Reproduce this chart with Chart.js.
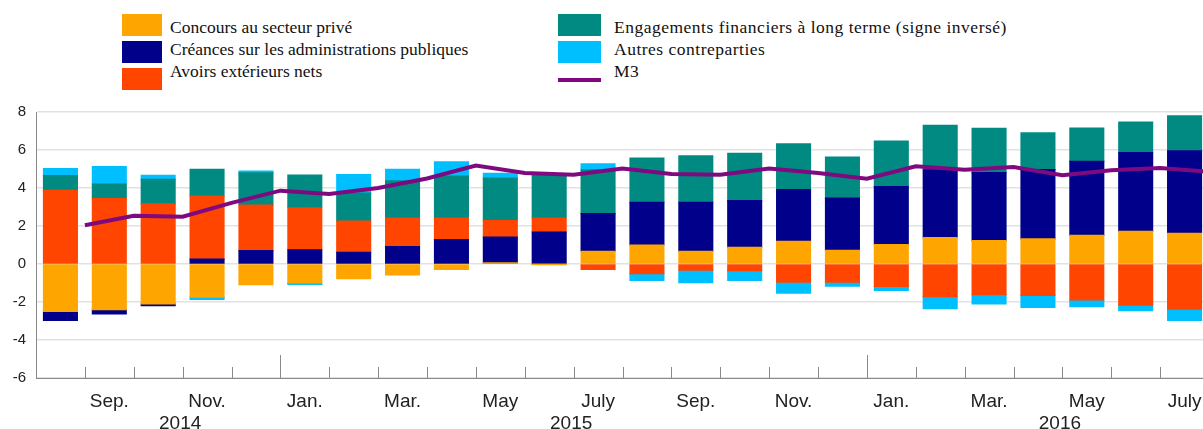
<!DOCTYPE html>
<html>
<head>
<meta charset="utf-8">
<script src="https://cdn.jsdelivr.net/npm/chart.js@4"></script>
<style>
html,body{margin:0;padding:0;background:#fff;overflow:hidden;width:1203px;height:429px;}
#legend{position:absolute;left:0;top:0;width:1203px;height:100px;font-family:"Liberation Serif","Times New Roman",serif;font-size:17.5px;color:#111;}
.sw{position:absolute;}
.lb{position:absolute;white-space:nowrap;line-height:20px;}
.lb.c2{letter-spacing:0.5px;}
#wrap{position:absolute;left:0;top:100px;}
</style>
</head>
<body>
<div id="legend"></div>
<div id="wrap"><canvas id="c" width="1209" height="329"></canvas></div>
<script>
const categories=["2014-08","2014-09","2014-10","2014-11","2014-12","2015-01","2015-02","2015-03","2015-04","2015-05","2015-06","2015-07","2015-08","2015-09","2015-10","2015-11","2015-12","2016-01","2016-02","2016-03","2016-04","2016-05","2016-06","2016-07"];
const tickLabels=["","Sep.","","Nov.","","Jan.","","Mar.","","May","","July","","Sep.","","Nov.","","Jan.","","Mar.","","May","","July"];
const years=["2014","2015","2016"];

const prive=[-2.50,-2.40,-2.10,-1.74,-1.09,-1.00,-0.77,-0.58,-0.28,0.06,-0.02,0.67,1.00,0.67,0.88,1.19,0.72,1.02,1.39,1.23,1.32,1.51,1.72,1.61];
const administrations=[-0.47,-0.23,-0.09,0.26,0.70,0.75,0.61,0.91,1.28,1.35,1.68,1.98,2.25,2.58,2.46,2.72,2.75,3.05,3.56,3.58,3.65,3.89,4.14,4.35];
const exterieurs=[3.88,3.44,3.16,3.32,2.40,2.21,1.65,1.51,1.14,0.88,0.74,-0.28,-0.51,-0.33,-0.35,-0.95,-0.95,-1.18,-1.72,-1.61,-1.65,-1.89,-2.16,-2.37];
const engagements=[0.77,0.77,1.30,1.40,1.70,1.72,1.47,1.96,2.21,2.23,2.23,2.30,2.33,2.44,2.49,2.42,2.16,2.40,2.35,2.33,1.93,1.75,1.61,1.84];
const autres=[0.37,0.91,0.21,-0.12,0.09,-0.07,0.98,0.60,0.74,0.25,0.00,0.32,-0.35,-0.65,-0.51,-0.58,-0.21,-0.21,-0.63,-0.49,-0.63,-0.35,-0.30,-0.60];
const m3=[2.04,2.54,2.49,3.22,3.86,3.68,4.00,4.50,5.18,4.79,4.70,5.03,4.74,4.70,5.02,4.79,4.49,5.14,4.96,5.10,4.67,4.93,5.05,4.85];

const barSeries=[
  {label:"Concours au secteur privé",data:prive,color:"#FFA500"},
  {label:"Créances sur les administrations publiques",data:administrations,color:"#00008B"},
  {label:"Avoirs extérieurs nets",data:exterieurs,color:"#FF4500"},
  {label:"Engagements financiers à long terme (signe inversé)",data:engagements,color:"#008A82"},
  {label:"Autres contreparties",data:autres,color:"#00BFFF"}
];
const m3Label="M3", m3Color="#7F0A80";

// legend (two columns of three rows)
const leg=document.getElementById("legend");
const legItems=barSeries.map(s=>({label:s.label,color:s.color,line:false})).concat([{label:m3Label,color:m3Color,line:true}]);
legItems.forEach((it,i)=>{
  const col=i<3?0:1,row=i%3;
  const sx=col?558:122, tx=col?614:170, top=14+row*27;
  const sw=document.createElement("div");
  sw.className="sw";
  if(it.line){sw.style.cssText=`left:${sx}px;top:78px;width:43px;height:4px;background:${it.color}`;}
  else{sw.style.cssText=`left:${sx}px;top:${top}px;width:${col?43:40}px;height:22px;background:${it.color}`;}
  leg.appendChild(sw);
  const t=document.createElement("div");
  t.className="lb"+(col?" c2":"");
  t.style.left=tx+"px";
  t.style.top=(17+row*22)+"px";
  t.textContent=it.label;
  leg.appendChild(t);
});

const axisExtras={
  id:"axisExtras",
  afterDraw(chart){
    const {ctx,chartArea}=chart;
    const xl=chart.scales.xl;
    ctx.save();
    ctx.strokeStyle="#8a8a8a";ctx.lineWidth=1;
    for(let i=1;i<categories.length;i++){
      const x=Math.round(xl.getPixelForValue(i))+0.5;
      const newYear=categories[i].slice(0,4)!==categories[i-1].slice(0,4);
      ctx.beginPath();
      ctx.moveTo(x,chartArea.bottom);
      ctx.lineTo(x,chartArea.bottom-(newYear?23:11));
      ctx.stroke();
    }
    ctx.fillStyle="#222";
    ctx.font='19px "Liberation Sans", Arial, sans-serif';
    ctx.textAlign="center";ctx.textBaseline="middle";
    years.forEach(y=>{
      const idx=categories.map((c,i)=>c.startsWith(y)?i:-1).filter(i=>i>=0);
      const mid=Math.ceil((idx[0]+idx[idx.length-1]+1)/2)-0.05;
      ctx.fillText(y,xl.getPixelForValue(mid),chartArea.bottom+46);
    });
    ctx.restore();
  }
};

const datasets=barSeries.map(s=>({
  type:"bar",label:s.label,data:s.data,backgroundColor:s.color,
  borderWidth:0,inflateAmount:0.6,grouped:false,barPercentage:0.693,categoryPercentage:1,order:1
}));
datasets.push({
  type:"line",label:m3Label,data:m3.map((v,i)=>({x:i+1,y:v})),
  xAxisID:"xl",stack:"m3",borderColor:m3Color,borderWidth:4,
  pointRadius:0,tension:0,order:0
});

new Chart(document.getElementById("c"),{
  type:"bar",
  data:{labels:categories,datasets:datasets},
  options:{
    responsive:false,animation:false,
    layout:{padding:{top:12,left:0,right:0,bottom:0}},
    plugins:{legend:{display:false},tooltip:{enabled:false}},
    scales:{
      x:{
        stacked:true,offset:true,
        grid:{display:false,drawTicks:false},
        border:{display:true,color:"#8a8a8a",width:1},
        ticks:{autoSkip:false,maxRotation:0,padding:12,color:"#222",
          font:{family:'"Liberation Sans", Arial, sans-serif',size:19},
          callback:(v,i)=>tickLabels[i]},
        afterFit:s=>{s.height=51;s.paddingLeft=0;s.paddingRight=0;}
      },
      xl:{type:"linear",min:0,max:categories.length,offset:false,grid:{offset:false},display:false},
      y:{
        stacked:true,min:-6,max:8,
        grid:{color:"#e2e2e2",lineWidth:1.5,drawTicks:false,z:-1},
        border:{display:true,color:"#8a8a8a",width:1},
        ticks:{stepSize:2,padding:10,color:"#222",
          font:{family:'"Liberation Sans", Arial, sans-serif',size:15}},
        afterFit:s=>{s.width=36;s.paddingTop=0;s.paddingBottom=0;}
      }
    }
  },
  plugins:[axisExtras]
});
</script>
</body>
</html>
